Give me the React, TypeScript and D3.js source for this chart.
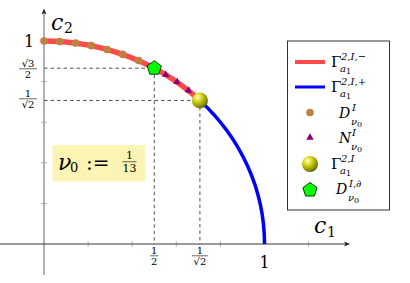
import React from 'react';
import * as d3 from 'd3';

// points on the quarter circle
const dX = [0, 0.071, 0.143, 0.214, 0.286, 0.357, 0.429];
const dY = [1, 0.997, 0.990, 0.977, 0.958, 0.934, 0.904];
const nX = [0.552, 0.603, 0.655];
const nY = [0.834, 0.798, 0.756];
const boundaryPt = [0.5, 0.866];
const junctionPt = [0.7071, 0.7071];
const arcStart = [0, 1];
const arcEnd = [1, 0];
const minorTicks = [0.2, 0.4, 0.6, 0.8, 1.2];
const yTicks = [0.2, 0.4, 0.6, 0.8];

const serif = "DejaVu Serif";

const x = d3.scaleLinear().domain([0, 1]).range([44, 264.5]);
const y = d3.scaleLinear().domain([0, 1]).range([244, 41]);
const rx = x(1) - x(0);
const ry = y(0) - y(1);

const arcPath = (a: number[], b: number[]) =>
	`M${x(a[0])},${y(a[1])} A${rx},${ry} 0 0 1 ${x(b[0])},${y(b[1])}`;

const pentagon = (cx: number, cy: number, r: number) => {
	const pts = d3.range(5).map(i => {
		const a = -Math.PI / 2 + i * 2 * Math.PI / 5;
		return `${cx + r * Math.cos(a)},${cy + r * Math.sin(a)}`;
	});
	return 'M' + pts.join('L') + 'Z';
};

const triangle = d3.symbol().type(d3.symbolTriangle).size(24);

const Ball = ({ cx, cy, r }: { cx: number; cy: number; r: number }) => (
	<circle cx={cx} cy={cy} r={r} fill='url(#ballGrad)' />
);

const Frac = ({ cx, top, num, den, size = 9, bar = 10 }: any) => (
	<g fontFamily={serif} fontSize={size} textAnchor='middle'>
		<text x={cx} y={top + size * 0.75}>{num}</text>
		<line x1={cx - bar / 2} x2={cx + bar / 2} y1={top + size * 0.98} y2={top + size * 0.98} stroke='#000' strokeWidth={0.6} />
		<text x={cx} y={top + size * 1.9}>{den}</text>
	</g>
);

const GammaLabel = ({ lx, cy, sup }: { lx: number; cy: number; sup: string }) => (
	<g fontFamily={serif}>
		<text x={lx} y={cy + 5} fontSize={15}>Γ</text>
		<text x={lx + 10} y={cy - 2} fontSize={10} fontStyle='italic'>{sup}</text>
		<text x={lx + 9} y={cy + 10} fontSize={10} fontStyle='italic'>a<tspan fontSize={8} fontStyle='normal' dy={2}>1</tspan></text>
	</g>
);

const SetLabel = ({ lx, cy, letter, sup }: { lx: number; cy: number; letter: string; sup: string }) => (
	<g fontFamily={serif} fontStyle='italic'>
		<text x={lx} y={cy + 5} fontSize={14}>{letter}</text>
		<text x={lx + 13} y={cy - 2} fontSize={10}>{sup}</text>
		<text x={lx + 12} y={cy + 12} fontSize={10}>ν<tspan fontSize={8} fontStyle='normal' dy={2}>0</tspan></text>
	</g>
);

const App = () => {
	const legendRows = [62, 87, 112.5, 137.5, 164, 189];
	const mx = 310;
	return (
		<svg width={410} height={283} style={{ position: 'absolute', left: 0, top: 0 }}>
			<defs>
				<radialGradient id='ballGrad' cx='0.35' cy='0.3' r='0.75'>
					<stop offset='0' stopColor='#ffffd0' />
					<stop offset='0.35' stopColor='#d8d820' />
					<stop offset='0.8' stopColor='#8a8a00' />
					<stop offset='1' stopColor='#5a5a00' />
				</radialGradient>
			</defs>
			<rect width={410} height={283} fill='#fff' />

			{/* ticks */}
			{minorTicks.map(t => (
				<line key={'xt' + t} x1={x(t)} x2={x(t)} y1={y(0) - 3} y2={y(0) + 3} stroke='#aaa' strokeWidth={0.8} />
			))}
			{yTicks.map(t => (
				<line key={'yt' + t} x1={x(0) - 3} x2={x(0) + 3} y1={y(t)} y2={y(t)} stroke='#aaa' strokeWidth={0.8} />
			))}

			{/* axes */}
			<line x1={x(0)} x2={x(0)} y1={y(-0.153)} y2={y(1.14)} stroke='#888' strokeWidth={1.3} />
			<path d={`M${x(0)},${y(1.14) - 4} l-2.5,6 l2.5,-1.5 l2.5,1.5 Z`} fill='#222' />
			<line x1={x(-0.2)} x2={x(1.37)} y1={y(0)} y2={y(0)} stroke='#222' strokeWidth={0.9} />
			<path d={`M${x(1.37) + 4},${y(0)} l-6,-2.5 l1.5,2.5 l-1.5,2.5 Z`} fill='#222' />

			{/* dashed guides */}
			{[boundaryPt, junctionPt].map((p, i) => (
				<g key={'g' + i} stroke='#222' strokeWidth={0.8} strokeDasharray='3.5,3' fill='none'>
					<line x1={x(0)} x2={x(p[0])} y1={y(p[1])} y2={y(p[1])} />
					<line x1={x(p[0])} x2={x(p[0])} y1={y(p[1])} y2={y(0)} />
				</g>
			))}

			{/* arcs */}
			<path d={arcPath(junctionPt, arcEnd)} stroke='#0000ff' strokeWidth={3.5} fill='none' />
			<path d={arcPath(arcStart, junctionPt)} stroke='#ff4a4a' strokeWidth={5.5} fill='none' />

			{dX.map((d, i) => (
				<circle key={'d' + i} cx={x(d)} cy={y(dY[i])} r={3.8} fill='#c08040' />
			))}
			{nX.map((d, i) => {
				const ang = Math.atan2(ry * d, rx * nY[i]) * 180 / Math.PI + 90;
				return (
					<path key={'n' + i} d={triangle() as string} fill='#800080'
						transform={`translate(${x(d)},${y(nY[i])}) rotate(${ang})`} />
				);
			})}
			<path d={pentagon(x(boundaryPt[0]), y(boundaryPt[1]), 7.5)} fill='#00ff00' stroke='#000' strokeWidth={0.8} />
			<Ball cx={x(junctionPt[0])} cy={y(junctionPt[1])} r={8} />

			{/* axis labels */}
			<g fontFamily={serif}>
				<text x={24} y={46.5} fontSize={16}>1</text>
				<text x={x(1)} y={268} fontSize={16} textAnchor='middle'>1</text>
				<text x={51} y={30} fontSize={22} fontStyle='italic'>c</text>
				<text x={64} y={33} fontSize={14}>2</text>
				<text x={314} y={233} fontSize={22} fontStyle='italic'>c</text>
				<text x={327} y={237} fontSize={14}>1</text>
			</g>
			<Frac cx={28} top={59} num='√3' den='2' size={10} bar={18} />
			<Frac cx={28} top={89} num='1' den='√2' size={10} bar={18} />
			<Frac cx={x(0.5)} top={246} num='1' den='2' size={10} bar={8} />
			<Frac cx={x(0.7071)} top={246} num='1' den='√2' size={10} bar={16} />

			{/* nu box */}
			<rect x={52.5} y={145} width={93} height={36.5} fill='#fbf4b4' />
			<g fontFamily={serif}>
				<text x={58} y={170} fontSize={22} fontStyle='italic'>ν</text>
				<text x={70} y={172} fontSize={13}>0</text>
				<text x={86} y={170} fontSize={20}>:=</text>
			</g>
			<Frac cx={129.5} top={151} num='1' den='13' size={11} bar={14} />

			{/* legend */}
			<rect x={287.5} y={41} width={102} height={169} fill='#fff' stroke='#333' strokeWidth={1} />
			<line x1={295} x2={325} y1={legendRows[0]} y2={legendRows[0]} stroke='#ff4a4a' strokeWidth={4} />
			<line x1={295} x2={325} y1={legendRows[1]} y2={legendRows[1]} stroke='#0000ff' strokeWidth={3} />
			<circle cx={mx} cy={legendRows[2]} r={3.8} fill='#c08040' />
			<path d={triangle() as string} fill='#800080' transform={`translate(${mx},${legendRows[3]})`} />
			<Ball cx={mx} cy={legendRows[4]} r={8} />
			<path d={pentagon(mx, legendRows[5] + 1, 7.5)} fill='#00ff00' stroke='#000' strokeWidth={0.8} />

			<GammaLabel lx={331} cy={legendRows[0]} sup='2,I,−' />
			<GammaLabel lx={331} cy={legendRows[1]} sup='2,I,+' />
			<SetLabel lx={339} cy={legendRows[2]} letter='D' sup='I' />
			<SetLabel lx={339} cy={legendRows[3]} letter='N' sup='I' />
			<GammaLabel lx={331} cy={legendRows[4]} sup='2,I' />
			<SetLabel lx={336} cy={legendRows[5]} letter='D' sup='I,∂' />
		</svg>
	);
};

export default App;
